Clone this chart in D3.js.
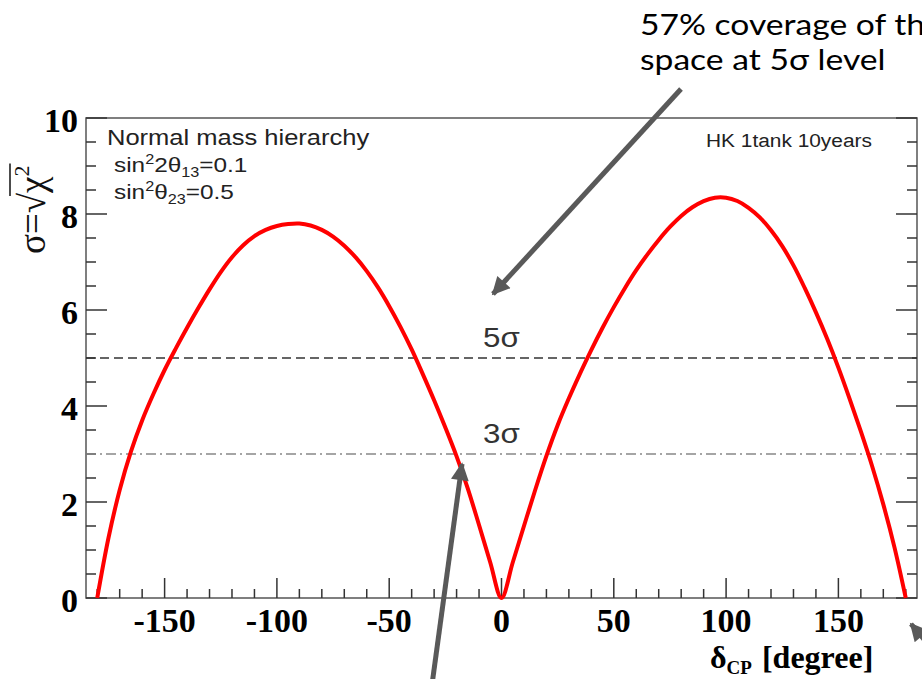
<!DOCTYPE html>
<html>
<head>
<meta charset="utf-8">
<script src="https://cdn.jsdelivr.net/npm/d3@7"></script>
<style>
  html, body { margin: 0; padding: 0; background: #fff; }
  svg { display: block; }
</style>
</head>
<body>
<svg id="chart" width="922" height="679"></svg>
<script>
// ---- data ----
const deltaCP = [-180,-175,-170,-165,-160,-155,-150,-145,-140,-135,-130,-125,-120,-115,-110,-105,-100,-95,-90,-85,-80,-75,-70,-65,-60,-55,-50,-45,-40,-35,-30,-25,-20,-15,-10,-5,
  0,5,10,15,20,25,30,35,40,45,50,55,60,65,70,75,80,85,90,95,100,105,110,115,120,125,130,135,140,145,150,155,160,165,170,175,180];
const sigmaValues = [0,1.25,2.25,3.05,3.7,4.25,4.75,5.2,5.63,6.04,6.43,6.79,7.1,7.35,7.54,7.67,7.75,7.79,7.8,7.76,7.67,7.53,7.34,7.1,6.81,6.47,6.08,5.65,5.18,4.66,4.12,3.55,2.95,2.28,1.52,0.74,
  0,0.74,1.5,2.25,2.96,3.6,4.16,4.68,5.17,5.63,6.06,6.46,6.83,7.16,7.46,7.73,7.96,8.14,8.27,8.34,8.34,8.27,8.13,7.93,7.66,7.33,6.93,6.46,5.95,5.4,4.8,4.15,3.47,2.75,1.95,1.05,0];
const xMajorTicks = [-150,-100,-50,0,50,100,150];
const xMinorTicks = d3.range(-180, 181, 10);
const yMajorTicks = [0,2,4,6,8,10];
const yMinorTicks = d3.range(0, 10.01, 0.5);
const sigmaLevels = [5, 3];
const legendTitle = "Normal mass hierarchy";
const experimentLabel = "HK 1tank 10years";
const noteLines = ["57% coverage of the", "space at 5σ level"];

// ---- layout ----
const svg = d3.select("#chart");
const L = 86, R = 917, T = 118, B = 598;
const x = d3.scaleLinear().domain([-185, 185]).range([L, R]);
const y = d3.scaleLinear().domain([0, 10]).range([B, T]);
const serif = "'Liberation Serif', 'Times New Roman', serif";
const sans = "'Liberation Sans', Arial, Helvetica, sans-serif";
const SX = 1.16; // horizontal stretch of the original raster text

// frame
svg.append("rect").attr("x", L).attr("y", T).attr("width", R - L).attr("height", B - T)
  .attr("fill", "none").attr("stroke", "#555").attr("stroke-width", 1.5);

// x ticks (inward, bottom only)
const gx = svg.append("g").attr("stroke", "#333").attr("stroke-width", 1.5);
gx.selectAll("line.minor").data(xMinorTicks.filter(v => !xMajorTicks.includes(v))).join("line")
  .attr("x1", d => x(d)).attr("x2", d => x(d)).attr("y1", B).attr("y2", B - 9);
gx.selectAll("line.major").data(xMajorTicks).join("line")
  .attr("x1", d => x(d)).attr("x2", d => x(d)).attr("y1", B).attr("y2", B - 20);

// y ticks (inward, left and right)
const gy = svg.append("g").attr("stroke", "#333").attr("stroke-width", 1.5);
[[L, 1], [R, -1]].forEach(([edge, dir]) => {
  gy.append("g").selectAll("line").data(yMinorTicks).join("line")
    .attr("x1", edge).attr("x2", d => edge + dir * (yMajorTicks.includes(d) ? 21 : 10))
    .attr("y1", d => y(d)).attr("y2", d => y(d));
});

// tick labels
svg.append("g").selectAll("text").data(xMajorTicks).join("text")
  .attr("x", d => x(d)).attr("y", 632).attr("text-anchor", "middle")
  .attr("font-family", serif).attr("font-weight", "bold").attr("font-size", 34)
  .text(d => d);
svg.append("g").selectAll("text").data(yMajorTicks).join("text")
  .attr("x", 78).attr("y", d => y(d) + 14).attr("text-anchor", "end")
  .attr("font-family", serif).attr("font-weight", "bold").attr("font-size", 34)
  .text(d => d);

// sigma reference lines
svg.append("line").attr("x1", L).attr("x2", R).attr("y1", y(sigmaLevels[0])).attr("y2", y(sigmaLevels[0]))
  .attr("stroke", "#333").attr("stroke-width", 1.5).attr("stroke-dasharray", "9,5");
svg.append("line").attr("x1", L).attr("x2", R).attr("y1", y(sigmaLevels[1])).attr("y2", y(sigmaLevels[1]))
  .attr("stroke", "#888").attr("stroke-width", 1.3).attr("stroke-dasharray", "10,4,2,4");

function stretchedText(px, py, size, color, family) {
  return svg.append("g").attr("transform", `translate(${px},${py}) scale(${SX},1)`)
    .append("text").attr("font-family", family || sans).attr("font-size", size).attr("fill", color);
}
stretchedText(483, 347, 27, "#333").text(sigmaLevels[0] + "σ");
stretchedText(483, 443, 27, "#333").text(sigmaLevels[1] + "σ");

// legend
stretchedText(107, 145, 22, "#222").text(legendTitle);
const l2 = stretchedText(114, 172, 21, "#222");
l2.append("tspan").text("sin");
l2.append("tspan").attr("font-size", 14).attr("dy", -8).text("2");
l2.append("tspan").attr("dy", 8).text("2θ");
l2.append("tspan").attr("font-size", 14).attr("dy", 5).text("13");
l2.append("tspan").attr("dy", -5).text("=0.1");
const l3 = stretchedText(114, 199, 21, "#222");
l3.append("tspan").text("sin");
l3.append("tspan").attr("font-size", 14).attr("dy", -8).text("2");
l3.append("tspan").attr("dy", 8).text("θ");
l3.append("tspan").attr("font-size", 14).attr("dy", 5).text("23");
l3.append("tspan").attr("dy", -5).text("=0.5");
stretchedText(706, 147, 18, "#222").text(experimentLabel);

// axis titles
const xt = svg.append("text").attr("x", 710).attr("y", 668)
  .attr("font-family", serif).attr("font-weight", "bold").attr("font-size", 32);
xt.append("tspan").text("δ");
xt.append("tspan").attr("font-size", 19).attr("dy", 6).text("CP");
xt.append("tspan").attr("font-size", 32).attr("dy", -6).attr("dx", 10).text("[degree]");

const yt = svg.append("g").attr("transform", "translate(45,254) rotate(-90)");
const ytt = yt.append("text").attr("font-family", serif).attr("font-size", 37).attr("fill", "#111");
ytt.append("tspan").text("σ=√");
ytt.append("tspan").text("χ");
ytt.append("tspan").attr("font-size", 22).attr("dy", -16).text("2");
const bb = ytt.node().getBBox();
const preLen = ytt.node().getSubStringLength(0, 3);
yt.append("line").attr("x1", preLen - 3).attr("x2", bb.x + bb.width + 2)
  .attr("y1", bb.y + 1).attr("y2", bb.y + 1).attr("stroke", "#111").attr("stroke-width", 1.5);

// curve
const pts = deltaCP.map((d, i) => [d, sigmaValues[i]]);
svg.append("path").datum(pts)
  .attr("d", d3.line().x(d => x(d[0])).y(d => y(d[1])).curve(d3.curveCatmullRom.alpha(0.5)))
  .attr("fill", "none").attr("stroke", "#f00").attr("stroke-width", 4)
  .attr("stroke-linejoin", "round");

// annotations (the reference crops the first line at the right edge)
const annFamily = "Lato, 'Open Sans', sans-serif";
stretchedText(640, 35, 29, "#000", annFamily).text(noteLines[0]);
stretchedText(640, 70, 29, "#000", annFamily).text(noteLines[1]);

const defs = svg.append("defs");
defs.append("marker").attr("id", "ah").attr("viewBox", "0 0 10 10").attr("refX", 9).attr("refY", 5)
  .attr("markerWidth", 4.2).attr("markerHeight", 3.6).attr("orient", "auto")
  .attr("markerUnits", "strokeWidth")
  .append("path").attr("d", "M0,0 L10,5 L0,10 z").attr("fill", "#595959");
const arrows = [
  [681, 89, 493, 294],
  [431, 692, 462, 464],
  [952, 672, 911, 624]
];
svg.append("g").selectAll("line").data(arrows).join("line")
  .attr("x1", d => d[0]).attr("y1", d => d[1]).attr("x2", d => d[2]).attr("y2", d => d[3])
  .attr("stroke", "#595959").attr("stroke-width", 5).attr("marker-end", "url(#ah)");
</script>
</body>
</html>
